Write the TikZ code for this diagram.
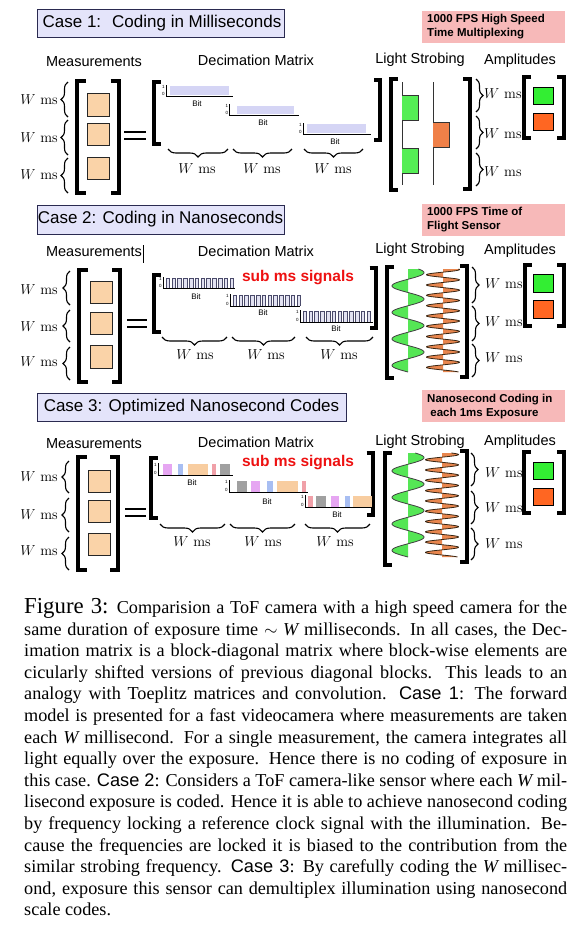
\documentclass[tikz,border=0pt]{standalone}
\usepackage{fontspec}
\usetikzlibrary{decorations.pathreplacing}
\newfontfamily\arialf{Liberation Sans}
\newfontfamily\timesf{Liberation Serif}
\definecolor{lav}{HTML}{E4E4FA}
\definecolor{ttlborder}{HTML}{2A2A50}
\definecolor{pinkbox}{HTML}{F7B9B9}
\definecolor{peach}{HTML}{FAD3A8}
\definecolor{blockblue}{HTML}{D5D5F5}
\definecolor{pgreen}{HTML}{55EE55}
\definecolor{porange}{HTML}{F08048}
\definecolor{agreen}{HTML}{33EE33}
\definecolor{aorange}{HTML}{FF6622}
\definecolor{sgreen}{HTML}{55E655}
\definecolor{sorange}{HTML}{E8864E}
\definecolor{subred}{HTML}{EE1111}
\definecolor{pulseline}{HTML}{4A4A6A}
\definecolor{pulsefill}{HTML}{E2E2F2}
\definecolor{cviolet}{HTML}{E6A6F2}
\definecolor{cblue}{HTML}{A8BEF2}
\definecolor{cpeach}{HTML}{F8CDA0}
\definecolor{cpink}{HTML}{F0A0A8}
\definecolor{cgray}{HTML}{A0A0A0}
\newcommand\lbrk[4]{\draw[brk] ({#1+#4},#2) -- (#1,#2) -- (#1,#3) -- ({#1+#4},#3);}
\newcommand\rbrk[4]{\draw[brk] ({#1-#4},#2) -- (#1,#2) -- (#1,#3) -- ({#1-#4},#3);}
\newcommand\blk[6]{%
  \draw[axisl] (#1,#2) -- (#1,#3) -- (#4,#3);
  \node[ax01] at ({#1-2.6},{#2+2.2}) {1};
  \node[ax01] at ({#1-2.6},{#3-2}) {0};
  \node[bitl] at (#5,#6) {Bit};}
\newcommand\sqwave[3]{%
  \foreach \i in {0,...,11} {
    \filldraw[pulse] ({#1+\i*5.8},#3) -- ({#1+\i*5.8},#2) -- ({#1+\i*5.8+3.6},#2) -- ({#1+\i*5.8+3.6},#3);
  }}
\newcommand\cbar[5]{\fill[#5] (#1,#3) rectangle (#2,#4);}
\newcommand\gwave[4]{% cx, y0, y1, phase
  \fill[sgreen] plot[domain=#2:#3,samples=300,variable=\t] ({#1+16*sin((\t-#4)/26.5*360)},\t) -- (#1,#3) -- (#1,#2) -- cycle;
  \draw[line width=0.8pt, draw=black!75] plot[domain=#2:#3,samples=300,variable=\t] ({#1+16*sin((\t-#4)/26.5*360)},\t);}
\newcommand\owave[4]{% cx, y0, y1, phase
  \fill[sorange] plot[domain=#2:#3,samples=400,variable=\t] ({#1+16.5*sin((\t-#4)/10.3*360)},\t) -- (#1,#3) -- (#1,#2) -- cycle;
  \draw[line width=0.8pt, draw=black!70!brown] plot[domain=#2:#3,samples=400,variable=\t] ({#1+16.5*sin((\t-#4)/10.3*360)},\t);}
\begin{document}
\begin{tikzpicture}[x=1pt,y=-1pt,
 brk/.style={line width=4pt},
 sq/.style={draw=black!85, line width=0.7pt, fill=peach},
 asq/.style={draw=black, line width=0.8pt},
 wms/.style={font=\fontsize{14.5}{16}\selectfont, inner sep=0pt},
 hdr/.style={font=\arialf\fontsize{14.5}{17}\selectfont, inner sep=0pt},
 ttl/.style={draw=ttlborder, line width=0.8pt, fill=lav},
 ttltext/.style={font=\arialf\fontsize{17}{20}\selectfont, inner sep=0pt},
 pinkt/.style={font=\arialf\bfseries\fontsize{11.5}{14}\selectfont, align=left, inner sep=0pt, anchor=west},
 lbrace/.style={decorate, decoration={brace, amplitude=7pt}, line width=1.1pt},
 ubrace/.style={decorate, decoration={brace, amplitude=8pt}, line width=1.1pt},
 axisl/.style={line width=0.8pt},
 ax01/.style={font=\arialf\fontsize{4.5}{5}\selectfont, inner sep=0pt},
 bitl/.style={font=\arialf\fontsize{8}{9}\selectfont, inner sep=0pt},
 subms/.style={font=\arialf\bfseries\fontsize{15.5}{18}\selectfont, text=subred, inner sep=0pt},
 pulse/.style={draw=pulseline, fill=pulsefill, line width=0.6pt},
 capl/.style={anchor=base west, inner sep=0pt, font=\timesf\fontsize{18.2}{21.6}\selectfont}
]
\fill[white] (0,0) rectangle (588,927);
\useasboundingbox (0,0) rectangle (588,927);

%================ CASE 1 =================
\draw[ttl] (37,9) rectangle (284,37);
\node[ttltext] (t1) at (162,23) {Case 1:~ Coding in Milliseconds};
\fill[pinkbox] (422,11) rectangle (565,43);
\node[pinkt] (p1) at (427,27) {1000 FPS High Speed\\Time Multiplexing};
\node[hdr] (m1) at (94,62) {Measurements};
\node[hdr] (d1) at (256,60) {Decimation Matrix};
\node[hdr] (l1) at (420,60) {Light Strobing};
\node[hdr] (a1) at (520,61) {Amplitudes};
% measurements
\foreach \ya/\yb/\ym in {82/117/100, 120/155/138, 158/193/175} {
  \draw[lbrace] (68,\yb) -- (68,\ya);
  \node[wms,anchor=east] at (58,\ym) {$W$ ms};
}
\lbrk{76.5}{81}{193}{9}
\rbrk{118.5}{81}{193}{8}
\draw[sq] (87,93) rectangle (109,116);
\draw[sq] (87,123) rectangle (109,145);
\draw[sq] (87,157) rectangle (109,179);
\draw[line width=2.3pt] (124,132) -- (146,132) (124,139) -- (146,139);
% decimation
\lbrk{153.5}{82}{144}{7}
\rbrk{380}{80}{140}{6}
\fill[blockblue] (170,86) rectangle (229,95);
\blk{166}{85}{96}{233}{197}{104}
\fill[blockblue] (237,106) rectangle (294,114);
\blk{229.5}{104}{115}{299}{263}{123}
\fill[blockblue] (307,124) rectangle (366,133);
\blk{303}{123}{134}{371}{335}{142}
\foreach \xa/\xb/\xm in {168/228/197, 233/292/262, 304/363/333} {
  \draw[ubrace] (\xb,149) -- (\xa,149);
  \node[wms] at (\xm,169) {$W$ ms};
}
% light strobing
\lbrk{391}{79}{190}{7}
\rbrk{470}{79}{189}{7}
\fill[pgreen] (402,95) rectangle (418,120);
\fill[pgreen] (402,148) rectangle (418,173);
\draw[line width=0.9pt, draw=black!80] (402,82) -- (402,95) -- (418,95) -- (418,120) -- (402,120) -- (402,148) -- (418,148) -- (418,173) -- (402,173) -- (402,185);
\fill[porange] (433,122) rectangle (449,147);
\draw[line width=0.9pt, draw=black!80] (433,82) -- (433,122) -- (449,122) -- (449,147) -- (433,147) -- (433,185);
\foreach \ya/\yb/\ym in {79/112/94, 116/149/134, 153/186/172} {
  \draw[lbrace] (476,\ya) -- (476,\yb);
  \node[wms,anchor=west] at (484,\ym) {$W$ ms};
}
% amplitudes
\lbrk{524}{77}{138}{7}
\rbrk{564}{77}{138}{7}
\draw[asq, fill=agreen] (533,87) rectangle (553,104);
\draw[asq, fill=aorange] (533,113) rectangle (553,130);

%================ CASE 2 =================
\draw[ttl] (37,205) rectangle (284,234);
\node[ttltext] (t2) at (160.5,219.5) {Case 2: Coding in Nanoseconds};
\fill[pinkbox] (422,204) rectangle (565,236);
\node[pinkt] (p2) at (427,220) {1000 FPS Time of\\Flight Sensor};
\node[hdr] (m2) at (94,252) {Measurements};
\draw[line width=0.8pt] (143,245) -- (143,263);
\node[hdr] (d2) at (256,251) {Decimation Matrix};
\node[hdr] (l2) at (420,250) {Light Strobing};
\node[hdr] (a2) at (520,251) {Amplitudes};
\foreach \ya/\yb/\ym in {271/305/290, 310/342/327, 347/380/362} {
  \draw[lbrace] (70,\yb) -- (70,\ya);
  \node[wms,anchor=east] at (58,\ym) {$W$ ms};
}
\lbrk{79}{270}{382}{9}
\rbrk{120}{270}{382}{8}
\draw[sq] (90,281) rectangle (112,303);
\draw[sq] (90,312) rectangle (112,334);
\draw[sq] (90,345) rectangle (112,368);
\draw[line width=2.3pt] (127,320) -- (147,320) (127,327) -- (147,327);
\lbrk{154}{275}{332}{7}
\rbrk{375.5}{268}{328}{6}
\sqwave{166}{278.5}{288}
\blk{163}{277}{288}{235}{196}{297}
\sqwave{233}{295.5}{306}
\blk{230}{294}{306}{300}{263}{313}
\sqwave{303}{311.5}{322}
\blk{300}{310}{322}{373}{336}{329}
\node[subms] (s2) at (298,278) {sub ms signals};
\foreach \xa/\xb/\xm in {162/227/195, 232/295/266, 306/373/339} {
  \draw[ubrace] (\xb,337) -- (\xa,337);
  \node[wms] at (\xm,355) {$W$ ms};
}
\lbrk{387}{267}{378}{7}
\rbrk{467}{266}{377}{7}
\gwave{408}{269}{372}{266}
\owave{443}{269}{372}{267}
\foreach \ya/\yb/\ym in {267/303/284, 306/341/322, 344/377/358} {
  \draw[lbrace] (472,\ya) -- (472,\yb);
  \node[wms,anchor=west] at (485,\ym) {$W$ ms};
}
\lbrk{524.5}{265}{326}{7}
\rbrk{564}{265}{326}{7}
\draw[asq, fill=agreen] (533,274) rectangle (553,292);
\draw[asq, fill=aorange] (533,300) rectangle (553,318);

%================ CASE 3 =================
\draw[ttl] (37,393) rectangle (346,421);
\node[ttltext] (t3) at (191.5,407) {Case 3: Optimized Nanosecond Codes};
\fill[pinkbox] (422,390) rectangle (565,422);
\node[pinkt] (p3) at (427,407) {Nanosecond Coding in\\\ each 1ms Exposure};
\node[hdr] (m3) at (94,444) {Measurements};
\node[hdr] (d3) at (256,442) {Decimation Matrix};
\node[hdr] (l3) at (420,442) {Light Strobing};
\node[hdr] (a3) at (520,442) {Amplitudes};
\foreach \ya/\yb/\ym in {461/493/477, 498/532/515, 537/570/551} {
  \draw[lbrace] (69,\yb) -- (69,\ya);
  \node[wms,anchor=east] at (58,\ym) {$W$ ms};
}
\lbrk{78}{457}{570}{9}
\rbrk{118}{457}{570}{8}
\draw[sq] (88,470) rectangle (110,492);
\draw[sq] (88,500) rectangle (110,522);
\draw[sq] (88,533) rectangle (110,555);
\draw[line width=2.3pt] (125,509) -- (146,509) (125,516) -- (146,516);
\lbrk{150.5}{458}{518}{7}
\rbrk{372.5}{453}{515}{6}
\cbar{163}{172}{463.5}{474.5}{cviolet}
\cbar{178}{183}{463.5}{474.5}{cblue}
\cbar{188}{208}{463.5}{474.5}{cpeach}
\cbar{212}{216}{463.5}{474.5}{cpink}
\cbar{220}{230}{463.5}{474.5}{cgray}
\blk{158}{463}{475}{233}{192}{483}
\cbar{237}{247}{480.5}{491.5}{cgray}
\cbar{251}{260}{480.5}{491.5}{cviolet}
\cbar{267}{273}{480.5}{491.5}{cblue}
\cbar{277}{298}{480.5}{491.5}{cpeach}
\cbar{302}{306}{480.5}{491.5}{cpink}
\blk{229}{480}{492}{308}{267}{502}
\cbar{308}{313}{495.5}{506.5}{cpink}
\cbar{316}{326}{495.5}{506.5}{cgray}
\cbar{331}{339}{495.5}{506.5}{cviolet}
\cbar{345}{350}{495.5}{506.5}{cblue}
\cbar{353}{372}{495.5}{506.5}{cpeach}
\blk{305}{495}{507}{372}{337}{515}
\node[subms] (s3) at (298,463) {sub ms signals};
\foreach \xa/\xb/\xm in {160/225/192, 230/295/263, 305/370/335} {
  \draw[ubrace] (\xb,524) -- (\xa,524);
  \node[wms] at (\xm,542) {$W$ ms};
}
\lbrk{385}{453}{565}{7}
\rbrk{466.5}{451}{562}{7}
\gwave{408}{453}{557}{451}
\owave{442}{453}{557}{452}
\foreach \ya/\yb/\ym in {453/486/473, 491/524/508, 528/560/544} {
  \draw[lbrace] (471,\ya) -- (471,\yb);
  \node[wms,anchor=west] at (485,\ym) {$W$ ms};
}
\lbrk{524}{452}{513}{7}
\rbrk{564}{452}{513}{7}
\draw[asq, fill=agreen] (533,462) rectangle (553,479);
\draw[asq, fill=aorange] (533,488) rectangle (553,505);

%================ CAPTION =================
\node[capl] (c1) at (24,613.5) {\makebox[543pt][s]{{\fontsize{22.8}{23}\selectfont Figure 3:} Comparision a ToF camera with a high speed camera for the}};
\node[capl] (c2) at (24,635.1) {\makebox[543pt][s]{same duration of exposure time $\sim$ {\itshape W} milliseconds. In all cases, the Dec-}};
\node[capl] (c3) at (24,656.7) {\makebox[543pt][s]{imation matrix is a block-diagonal matrix where block-wise elements are}};
\node[capl] (c4) at (24,678.3) {\makebox[543pt][s]{cicularly shifted versions of previous diagonal blocks. This leads to an}};
\node[capl] (c5) at (24,699.9) {\makebox[543pt][s]{analogy with Toeplitz matrices and convolution. {\arialf Case 1}: The forward}};
\node[capl] (c6) at (24,721.5) {\makebox[543pt][s]{model is presented for a fast videocamera where measurements are taken}};
\node[capl] (c7) at (24,743.1) {\makebox[543pt][s]{each {\itshape W} millisecond. For a single measurement, the camera integrates all}};
\node[capl] (c8) at (24,764.7) {\makebox[543pt][s]{light equally over the exposure. Hence there is no coding of exposure in}};
\node[capl] (c9) at (24,786.3) {\makebox[543pt][s]{this case. {\arialf Case 2}: Considers a ToF camera-like sensor where each {\itshape W} mil-}};
\node[capl] (c10) at (24,807.9) {\makebox[543pt][s]{lisecond exposure is coded. Hence it is able to achieve nanosecond coding}};
\node[capl] (c11) at (24,829.5) {\makebox[543pt][s]{by frequency locking a reference clock signal with the illumination. Be-}};
\node[capl] (c12) at (24,851.1) {\makebox[543pt][s]{cause the frequencies are locked it is biased to the contribution from the}};
\node[capl] (c13) at (24,872.7) {\makebox[543pt][s]{similar strobing frequency. {\arialf Case 3}: By carefully coding the {\itshape W} millisec-}};
\node[capl] (c14) at (24,894.3) {\makebox[543pt][s]{ond, exposure this sensor can demultiplex illumination using nanosecond}};
\node[capl] (c15) at (24,915.9) {scale codes.};
\end{tikzpicture}
\end{document}
